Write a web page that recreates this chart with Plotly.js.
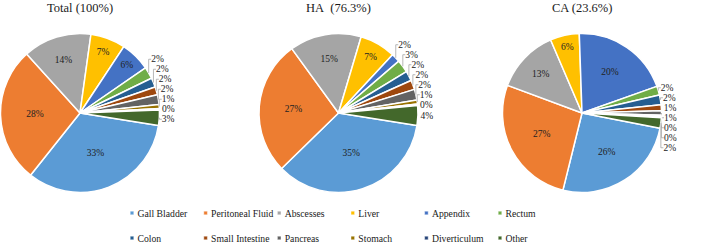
<!DOCTYPE html>
<html><head><meta charset="utf-8">
<script src="https://cdn.plot.ly/plotly-3.0.1.min.js"></script>
<style>html,body{margin:0;padding:0;background:#fff;} #chart{width:709px;height:243px;}</style>
</head><body><div id="chart"></div>
<script>
// ---- data ----
const categories = ['Gall Bladder','Peritoneal Fluid','Abscesses','Liver','Appendix','Rectum','Colon','Small Intestine','Pancreas','Stomach','Diverticulum','Other'];
const totalValues = [33.2, 27.6, 13.9, 7.1, 6.1, 2.4, 1.9, 1.6, 2.0, 0.8, 0.3, 3.1];
const haValues    = [35.2, 27.3, 14.6, 7.3, 1.8, 2.6, 2.0, 1.9, 2.2, 0.8, 0.3, 4.0];
const caValues    = [25.8, 26.8, 12.9, 5.9, 20.1, 1.8, 2.0, 1.2, 0.9, 0.2, 0.3, 2.1];
const pieTitles   = ['Total (100%)', 'HA\u00a0 (76.3%)', 'CA (23.6%)'];

// ---- style ----
const colors = ['#5B9BD5','#ED7D31','#A5A5A5','#FFC000','#4472C4','#70AD47','#255E91','#9E480E','#636363','#997300','#264478','#43682B'];
const FONT = 'Liberation Serif, Times New Roman, serif';
const W = 709, H = 243;
const centersX = [80, 338.5, 582];
const centerY = 113;
const R = 79.5;
const rotations = [99, 99, 101];

const seriesList = [totalValues, haValues, caValues];
const data = seriesList.map((vals, k) => ({
  type: 'pie',
  labels: categories,
  values: vals,
  sort: false,
  direction: 'clockwise',
  rotation: rotations[k],
  marker: {colors: colors, line: {color: '#ffffff', width: 1.5}},
  texttemplate: '%{percent:.0%}',
  textposition: vals.map(v => v >= 5 ? 'inside' : 'outside'),
  insidetextorientation: 'horizontal',
  insidetextfont: {family: FONT, size: 9.5, color: '#222'},
  outsidetextfont: {family: FONT, size: 9.5, color: '#222'},
  hoverinfo: 'none',
  automargin: false,
  showlegend: k === 0,
  domain: {
    x: [(centersX[k] - R) / W, (centersX[k] + R) / W],
    y: [(H - centerY - R) / H, (H - centerY + R) / H]
  }
}));

const layout = {
  width: W, height: H,
  margin: {l: 0, r: 0, t: 0, b: 0, autoexpand: false},
  paper_bgcolor: '#fff',
  font: {family: FONT, color: '#222'},
  showlegend: true,
  legend: {orientation: 'h', x: 0.15, y: 0.15, xanchor: 'left', yanchor: 'top',
           font: {family: FONT, size: 9.7, color: '#1a1a1a'}, bgcolor: 'rgba(0,0,0,0)',
           entrywidth: 73.6, entrywidthmode: 'pixels'},
  annotations: pieTitles.map((t, k) => ({
    text: t, xref: 'paper', yref: 'paper', x: centersX[k] / W, y: 1 - 8 / H,
    xanchor: 'center', yanchor: 'middle', showarrow: false,
    font: {family: FONT, size: 12.5, color: '#1a1a1a'}
  }))
};

const LEGEND_X0 = 132, LEGEND_Y0 = 213, LEGEND_COL_W = 73.6, LEGEND_ROW_H = 25, LEGEND_COLS = 6, LEGEND_TEXT_DX = 5.5;

const gd = document.getElementById('chart');
Plotly.newPlot(gd, data, layout, {staticPlot: true, displayModeBar: false}).then(() => {
  gd.querySelectorAll('path.textline').forEach(p => { p.style.stroke = '#a6a6a6'; p.style.strokeWidth = '0.8px'; });
  const leg = gd.querySelector('g.legend');
  if (!leg) return;
  leg.removeAttribute('clip-path');
  leg.querySelectorAll('[clip-path]').forEach(e => e.removeAttribute('clip-path'));
  const m = /translate\(\s*([-\d.e]+)[ ,]+([-\d.e]+)/.exec(leg.getAttribute('transform') || 'translate(0,0)');
  const lx = +m[1], ly = +m[2];
  leg.querySelectorAll('g.traces').forEach((g, i) => {
    const col = i % LEGEND_COLS, row = Math.floor(i / LEGEND_COLS);
    g.setAttribute('transform', `translate(${LEGEND_X0 + col * LEGEND_COL_W - lx},${LEGEND_Y0 + row * LEGEND_ROW_H - ly})`);
    const p = g.querySelector('path.legendpie');
    if (p) p.setAttribute('transform', 'scale(0.3)');
    const tx = g.querySelector('text.legendtext');
    if (tx) tx.setAttribute('x', LEGEND_TEXT_DX);
  });
});
</script>
</body></html>
